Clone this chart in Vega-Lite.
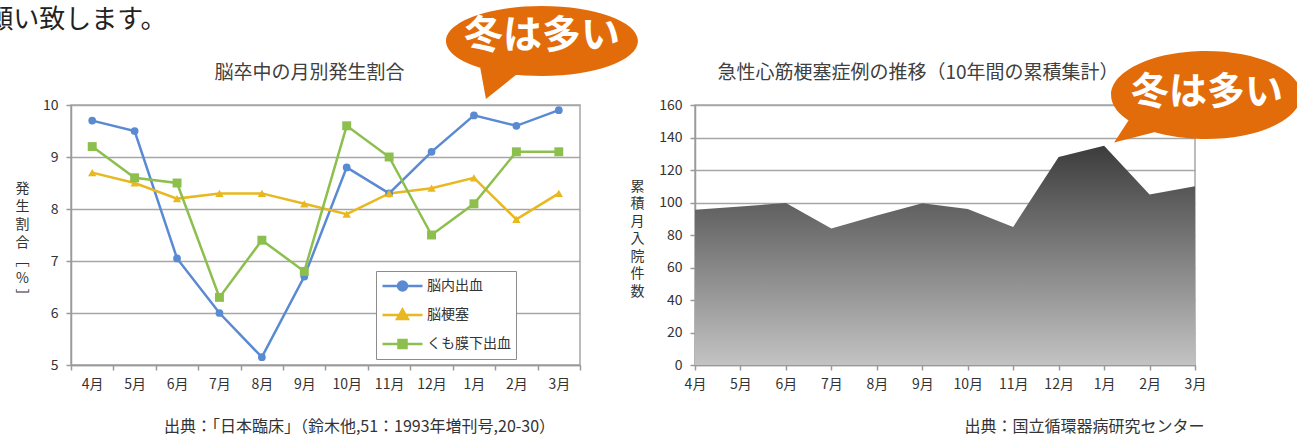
{
  "$schema": "https://vega.github.io/schema/vega-lite/v6.json",
  "background": "white",
  "padding": {"left": -14, "top": 5, "right": 0, "bottom": 0},
  "bounds": "flush",
  "spacing": 115,
  "config": {
    "font": "Noto Sans CJK JP",
    "view": {"stroke": "#a6a6a6", "strokeWidth": 1.5},
    "axis": {
      "labelFont": "Noto Sans CJK JP", "labelFontSize": 14, "labelColor": "#333333",
      "domainColor": "#9a9a9a", "domainWidth": 1.5, "tickColor": "#9a9a9a", "tickSize": 5, "tickWidth": 1.5,
      "gridColor": "#a6a6a6", "gridWidth": 1.5,
      "titleFont": "Noto Sans CJK JP", "titleFontWeight": "normal", "titleColor": "#333333"
    },
    "title": {"font": "Noto Sans CJK JP", "fontSize": 19, "fontWeight": "normal", "color": "#404040"}
  },
  "resolve": {"scale": {"color": "independent"}, "legend": {"color": "independent"}},
  "hconcat": [
    {
      "width": 509,
      "height": 260,
      "title": {"text": "脳卒中の月別発生割合", "anchor": "middle", "dx": -16, "offset": -77},
      "data": {"values": [
        {"m": "4月", "s": "脳内出血", "v": 9.7}, {"m": "5月", "s": "脳内出血", "v": 9.5}, {"m": "6月", "s": "脳内出血", "v": 7.05},
        {"m": "7月", "s": "脳内出血", "v": 6.0}, {"m": "8月", "s": "脳内出血", "v": 5.15}, {"m": "9月", "s": "脳内出血", "v": 6.7},
        {"m": "10月", "s": "脳内出血", "v": 8.8}, {"m": "11月", "s": "脳内出血", "v": 8.3}, {"m": "12月", "s": "脳内出血", "v": 9.1},
        {"m": "1月", "s": "脳内出血", "v": 9.8}, {"m": "2月", "s": "脳内出血", "v": 9.6}, {"m": "3月", "s": "脳内出血", "v": 9.9},
        {"m": "4月", "s": "脳梗塞", "v": 8.7}, {"m": "5月", "s": "脳梗塞", "v": 8.5}, {"m": "6月", "s": "脳梗塞", "v": 8.2},
        {"m": "7月", "s": "脳梗塞", "v": 8.3}, {"m": "8月", "s": "脳梗塞", "v": 8.3}, {"m": "9月", "s": "脳梗塞", "v": 8.1},
        {"m": "10月", "s": "脳梗塞", "v": 7.9}, {"m": "11月", "s": "脳梗塞", "v": 8.3}, {"m": "12月", "s": "脳梗塞", "v": 8.4},
        {"m": "1月", "s": "脳梗塞", "v": 8.6}, {"m": "2月", "s": "脳梗塞", "v": 7.8}, {"m": "3月", "s": "脳梗塞", "v": 8.3},
        {"m": "4月", "s": "くも膜下出血", "v": 9.2}, {"m": "5月", "s": "くも膜下出血", "v": 8.6}, {"m": "6月", "s": "くも膜下出血", "v": 8.5},
        {"m": "7月", "s": "くも膜下出血", "v": 6.3}, {"m": "8月", "s": "くも膜下出血", "v": 7.4}, {"m": "9月", "s": "くも膜下出血", "v": 6.8},
        {"m": "10月", "s": "くも膜下出血", "v": 9.6}, {"m": "11月", "s": "くも膜下出血", "v": 9.0}, {"m": "12月", "s": "くも膜下出血", "v": 7.5},
        {"m": "1月", "s": "くも膜下出血", "v": 8.1}, {"m": "2月", "s": "くも膜下出血", "v": 9.1}, {"m": "3月", "s": "くも膜下出血", "v": 9.1}
      ]},
      "layer": [
        {
          "mark": {"type": "line", "strokeWidth": 2.5},
          "encoding": {
            "x": {"field": "m", "type": "ordinal",
              "scale": {"type": "band", "paddingInner": 0, "paddingOuter": 0, "domain": ["4月","5月","6月","7月","8月","9月","10月","11月","12月","1月","2月","3月"]},
              "axis": {"title": "出典：「日本臨床」（鈴木他,51：1993年増刊号,20-30）", "titleX": 288, "titleY": 61, "titleAlign": "center", "titleBaseline": "middle", "titleFontSize": 16,
                "labelAngle": 0, "tickBand": "extent", "labelPadding": 7, "grid": false}},
            "y": {"field": "v", "type": "quantitative", "scale": {"domain": [5, 10], "zero": false, "nice": false},
              "axis": {"values": [5, 6, 7, 8, 9, 10], "tickCount": 12, "format": "d", "title": ["発", "生", "割", "合", "﹇", "%", "﹈"], "titleAngle": 0,
                "titleX": -49, "titleY": 83, "titleAlign": "center", "titleBaseline": "middle", "titleFontSize": 14, "titleLineHeight": 18,
                "labelPadding": 8, "grid": true}},
            "color": {"field": "s", "type": "nominal",
              "scale": {"domain": ["脳内出血", "脳梗塞", "くも膜下出血"], "range": ["#5A8AD2", "#E8B820", "#8CBF4E"]},
              "legend": {"orient": "none", "legendX": 305, "legendY": 166, "title": null, "fillColor": "white", "strokeColor": "#8c8c8c",
                "padding": 5, "symbolSize": 1600, "clipHeight": 20, "rowPadding": 9, "labelFontSize": 14, "labelColor": "#333333",
                "labelOffset": 3, "labelFont": "Noto Sans CJK JP", "symbolStrokeWidth": 2.5, "labelLimit": 200,
                "encode": {"symbols": {"update": {
                  "shape": {"signal": "datum.value === '脳内出血' ? 'M -1 0 L 1 0 M 0.225 0 C 0.225 0.124 0.124 0.225 0 0.225 C -0.124 0.225 -0.225 0.124 -0.225 0 C -0.225 -0.124 -0.124 -0.225 0 -0.225 C 0.124 -0.225 0.225 -0.124 0.225 0 Z' : datum.value === '脳梗塞' ? 'M -1 0 L 1 0 M 0 -0.27 L 0.27 0.2 L -0.27 0.2 Z' : 'M -1 0 L 1 0 M -0.2 -0.2 L 0.2 -0.2 L 0.2 0.2 L -0.2 0.2 Z'"},
                  "fill": {"signal": "datum.value === '脳内出血' ? '#5A8AD2' : datum.value === '脳梗塞' ? '#E8B820' : '#8CBF4E'"},
                  "stroke": {"signal": "datum.value === '脳内出血' ? '#5A8AD2' : datum.value === '脳梗塞' ? '#E8B820' : '#8CBF4E'"},
                  "strokeWidth": {"value": 2.5},
                  "opacity": {"value": 1}
                }}}}}
          }
        },
        {
          "mark": {"type": "point", "filled": true, "opacity": 1},
          "encoding": {
            "x": {"field": "m", "type": "ordinal"},
            "y": {"field": "v", "type": "quantitative"},
            "color": {"field": "s", "type": "nominal", "legend": null},
            "shape": {"field": "s", "type": "nominal", "scale": {"domain": ["脳内出血", "脳梗塞", "くも膜下出血"], "range": ["circle", "triangle-up", "square"]}, "legend": null},
            "size": {"field": "s", "type": "nominal", "scale": {"domain": ["脳内出血", "脳梗塞", "くも膜下出血"], "range": [60, 80, 60]}, "legend": null}
          }
        },
        {
          "data": {"values": [{"m": "1月", "v": 10.1, "t": "冬は多い"}]},
          "mark": {"type": "point", "filled": true, "opacity": 1, "color": "#E36C0A", "size": 40000, "strokeWidth": 0,
            "shape": "M 1.64 -0.588 C 1.64 -0.3947 1.2102 -0.238 0.68 -0.238 C 0.1498 -0.238 -0.28 -0.3947 -0.28 -0.588 C -0.28 -0.7813 0.1498 -0.938 0.68 -0.938 C 1.2102 -0.938 1.64 -0.7813 1.64 -0.588 Z M 0.47 -0.288 L 0.12 -0.008 L 0.05 -0.388 Z"},
          "encoding": {"x": {"field": "m", "type": "ordinal"}, "y": {"field": "v", "type": "quantitative"}}
        },
        {
          "data": {"values": [{"m": "1月", "v": 10.1, "t": "冬は多い"}]},
          "mark": {"type": "text", "dx": 68, "dy": -64, "fontSize": 39, "fontWeight": "bold", "color": "white", "align": "center", "baseline": "middle"},
          "encoding": {"x": {"field": "m", "type": "ordinal"}, "y": {"field": "v", "type": "quantitative"}, "text": {"field": "t"}}
        },
        {
          "data": {"values": [{"m": "4月", "v": 11.48, "t": "願い致します。"}]},
          "mark": {"type": "text", "dx": -105, "fontSize": 26, "color": "#222222", "align": "left", "baseline": "alphabetic"},
          "encoding": {"x": {"field": "m", "type": "ordinal"}, "y": {"field": "v", "type": "quantitative"}, "text": {"field": "t"}}
        }
      ]
    },
    {
      "width": 500,
      "height": 260,
      "title": {"text": "急性心筋梗塞症例の推移（10年間の累積集計）", "anchor": "middle", "dx": -27, "offset": -32},
      "data": {"values": [
        {"m": "4月", "v": 95.5}, {"m": "5月", "v": 97.5}, {"m": "6月", "v": 99.7}, {"m": "7月", "v": 84},
        {"m": "8月", "v": 92}, {"m": "9月", "v": 99.5}, {"m": "10月", "v": 96}, {"m": "11月", "v": 85},
        {"m": "12月", "v": 128}, {"m": "1月", "v": 135}, {"m": "2月", "v": 105}, {"m": "3月", "v": 110}
      ]},
      "layer": [
        {
          "mark": {"type": "area", "opacity": 1,
            "color": {"gradient": "linear", "x1": 0, "y1": 0, "x2": 0, "y2": 1,
              "stops": [{"offset": 0, "color": "#3c3c3c"}, {"offset": 1, "color": "#c3c3c3"}]}},
          "encoding": {
            "x": {"field": "m", "type": "ordinal",
              "scale": {"type": "point", "padding": 0, "domain": ["4月","5月","6月","7月","8月","9月","10月","11月","12月","1月","2月","3月"]},
              "axis": {"title": "出典：国立循環器病研究センター", "titleX": 389, "titleY": 61, "titleAlign": "center", "titleBaseline": "middle", "titleFontSize": 16,
                "labelAngle": 0, "labelPadding": 7, "grid": false}},
            "y": {"field": "v", "type": "quantitative", "scale": {"domain": [0, 160], "nice": false},
              "axis": {"values": [0, 20, 40, 60, 80, 100, 120, 140, 160], "tickCount": 20, "title": ["累", "積", "月", "入", "院", "件", "数"], "titleAngle": 0,
                "titleX": -58, "titleY": 81, "titleAlign": "center", "titleBaseline": "middle", "titleFontSize": 14, "titleLineHeight": 17.5,
                "labelPadding": 8, "grid": true}}
          }
        },
        {
          "data": {"values": [{"m": "1月", "v": 137, "t": "冬は多い"}]},
          "mark": {"type": "point", "filled": true, "opacity": 1, "color": "#E36C0A", "size": 40000, "strokeWidth": 0,
            "shape": "M 1.97 -0.474 C 1.97 -0.231 1.5447 -0.034 1.02 -0.034 C 0.4953 -0.034 0.07 -0.231 0.07 -0.474 C 0.07 -0.717 0.4953 -0.914 1.02 -0.914 C 1.5447 -0.914 1.97 -0.717 1.97 -0.474 Z M 0.57 -0.12 L 0.1 0 L 0.27 -0.26 Z"},
          "encoding": {"x": {"field": "m", "type": "ordinal"}, "y": {"field": "v", "type": "quantitative"}}
        },
        {
          "data": {"values": [{"m": "1月", "v": 137, "t": "冬は多い"}]},
          "mark": {"type": "text", "dx": 103, "dy": -49, "fontSize": 38, "fontWeight": "bold", "color": "white", "align": "center", "baseline": "middle"},
          "encoding": {"x": {"field": "m", "type": "ordinal"}, "y": {"field": "v", "type": "quantitative"}, "text": {"field": "t"}}
        }
      ]
    }
  ]
}
